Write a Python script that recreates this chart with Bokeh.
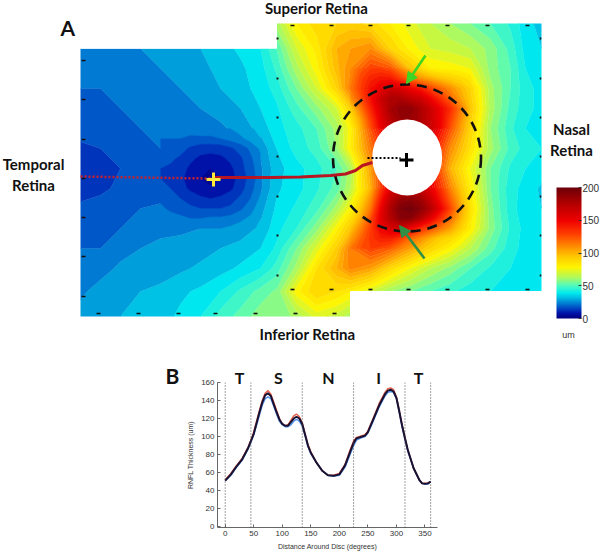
from bokeh.plotting import figure
from bokeh.layouts import column
from bokeh.embed import file_html
from bokeh.resources import INLINE
from bokeh.models import (ColorBar, LinearColorMapper, FixedTicker, Range1d, Arrow,
                          NormalHead, Span)
from bokeh.core.properties import value
import numpy as np

N = float("nan")

# ---- thickness map (um) ----
map_x = [80, 100, 120, 140, 160, 180, 200, 220, 240, 260, 276,
         296, 316, 336, 350, 370, 390, 410, 430, 450, 470, 490, 510, 525, 541]
map_y = [23, 48, 68, 88, 108, 128, 148, 168, 188, 208, 228, 248, 268, 291, 316]
r023 = [N, N, N, N, N, N, N, N, N, N, 62, 80, 88, 90, 92, 88, 80, 72, 65, 60, 55, 50, 44, 37, 33]
r048 = [22, 23, 24, 25, 27, 28, 30, 33, 36, 40, 50, 70, 82, 100, 105, 110, 90, 78, 70, 68, 65, 58, 48, 38, 35]
r068 = [21, 22, 23, 24, 25, 27, 29, 31, 34, 38, 46, 63, 78, 98, 110, 130, 125, 95, 80, 78, 75, 58, 50, 40, 37]
r088 = [20, 20, 21, 23, 24, 25, 27, 30, 33, 37, 42, 55, 70, 90, 115, 145, 165, 150, 130, 110, 90, 62, 50, 42, 38]
r108 = [18, 19, 20, 21, 23, 24, 25, 27, 30, 35, 39, 48, 58, 70, 92, 138, 180, 188, 165, 135, 95, 63, 48, 42, 38]
r128 = [17, 18, 19, 20, 21, 22, 23, 24, 27, 32, 38, 43, 50, 62, 78, 125, 168, 178, 168, 125, 90, 60, 46, 40, 38]
r148 = [14, 15, 18, 20, 20, 17, 12, 12, 17, 26, 35, 42, 47, 60, 80, 115, 150, 160, 150, 110, 85, 62, 48, 43, 40]
r168 = [12, 13, 15, 16, 15, 14, 6, 6, 13, 24, 33, 38, 43, 50, 62, 105, 150, 155, 145, 100, 75, 55, 44, 40, 38]
r188 = [13, 14, 16, 17, 17, 14, 7, 7, 13, 24, 34, 38, 44, 52, 65, 100, 158, 170, 155, 112, 80, 55, 42, 38, 34]
r208 = [16, 17, 19, 20, 21, 18, 16, 16, 20, 28, 36, 41, 48, 62, 78, 115, 178, 198, 175, 128, 85, 57, 42, 37, 35]
r228 = [19, 18, 20, 22, 24, 24, 25, 25, 27, 31, 38, 45, 58, 78, 95, 130, 160, 150, 125, 105, 80, 58, 44, 38, 37]
r248 = [20, 20, 23, 25, 26, 27, 28, 30, 32, 35, 41, 55, 72, 92, 115, 130, 122, 105, 90, 78, 65, 52, 42, 38, 37]
r268 = [22, 23, 26, 28, 28, 29, 31, 33, 36, 40, 47, 62, 85, 100, 112, 105, 88, 75, 65, 58, 50, 44, 40, 37, 37]
r291 = [24, 27, 29, 30, 31, 34, 36, 40, 46, 52, 56, 78, 90, 85, 80, 70, 60, 55, 50, 46, 42, 40, 38, 37, 37]
r316 = [27, 29, 30, 32, 33, 36, 40, 47, 52, 58, 55, 62, 72, 68, 62, N, N, N, N, N, N, N, N, N, N]
map_rows = [r023, r048, r068, r088, r108, r128, r148, r168, r188, r208, r228, r248, r268, r291, r316]

# finer readings around the disc (above and below) and around the fovea
disc_col_x = [350, 360, 370, 380, 390, 400, 410, 420, 430, 440, 450, 460, 470]
upper_y = [68, 78, 88, 98, 108, 118, 128]
u068 = [110, 122, 130, 130, 125, 112, 95, 88, 80, 78, 78, 77, 75]
u078 = [112, 128, 138, 143, 142, 130, 118, 108, 102, 96, 92, 88, 83]
u088 = [115, 130, 145, 155, 165, 160, 150, 142, 130, 120, 110, 100, 90]
u098 = [108, 125, 145, 165, 178, 178, 170, 165, 150, 135, 120, 105, 92]
u108 = [92, 115, 138, 160, 180, 188, 188, 178, 165, 150, 135, 115, 95]
u118 = [85, 105, 130, 155, 175, 185, 185, 178, 165, 150, 130, 110, 92]
u128 = [78, 100, 125, 150, 168, 178, 178, 175, 168, 150, 125, 105, 90]
upper_rows = [u068, u078, u088, u098, u108, u118, u128]
lower_y = [188, 198, 208, 218, 228, 238, 248]
l188 = [65, 80, 100, 130, 158, 168, 170, 168, 155, 135, 112, 95, 80]
l198 = [72, 88, 108, 140, 170, 185, 188, 182, 165, 142, 120, 100, 83]
l208 = [78, 95, 115, 150, 178, 195, 198, 190, 175, 152, 128, 105, 85]
l218 = [85, 102, 125, 155, 175, 190, 190, 175, 155, 135, 118, 100, 83]
l228 = [95, 112, 130, 150, 160, 165, 150, 135, 125, 115, 105, 92, 80]
l238 = [105, 120, 132, 140, 140, 130, 118, 110, 100, 92, 88, 80, 72]
l248 = [115, 125, 130, 128, 122, 112, 105, 97, 90, 84, 78, 72, 65]
lower_rows = [l188, l198, l208, l218, l228, l238, l248]
fovea_x = [160, 170, 180, 190, 200, 210, 220, 230, 240, 250, 260]
fovea_y = [128, 138, 148, 158, 168, 178, 188, 198, 208, 218, 228]
f128 = [21, 21, 22, 22, 23, 23, 24, 25, 27, 29, 32]
f138 = [20, 20, 20, 19, 19, 19, 20, 22, 24, 27, 30]
f148 = [20, 18, 17, 14, 12, 12, 12, 14, 17, 21, 26]
f158 = [18, 16, 14, 11, 9, 8, 9, 11, 14, 19, 24]
f168 = [15, 14, 12, 9, 6, 5, 6, 9, 13, 18, 23]
f178 = [15, 14, 11, 8, 5, 3, 5, 8, 12, 17, 23]
f188 = [17, 15, 12, 9, 7, 6, 7, 9, 13, 18, 24]
f198 = [19, 17, 15, 13, 11, 10, 11, 13, 16, 20, 26]
f208 = [21, 19, 18, 16, 15, 15, 15, 16, 19, 23, 28]
f218 = [23, 22, 21, 20, 20, 21, 21, 22, 24, 26, 30]
f228 = [24, 24, 24, 25, 25, 25, 25, 26, 27, 29, 31]
fovea_rows = [f128, f138, f148, f158, f168, f178, f188, f198, f208, f218, f228]

# colour scale stops (value, r, g, b)
stops_v = [0, 8, 15, 25, 38, 50, 62, 78, 95, 110, 130, 150, 175, 200]
stops_r = [0, 0, 0, 0, 0, 80, 170, 255, 255, 255, 255, 240, 180, 110]
stops_g = [0, 20, 70, 140, 235, 250, 250, 245, 200, 140, 60, 0, 0, 0]
stops_b = [130, 170, 195, 215, 240, 190, 100, 0, 0, 0, 0, 0, 0, 10]

def scale(values):
    v = np.asarray(values, float)
    r = np.interp(v, stops_v, stops_r)
    g = np.interp(v, stops_v, stops_g)
    b = np.interp(v, stops_v, stops_b)
    return ["#%02x%02x%02x" % (int(a), int(c), int(d)) for a, c, d in zip(r, g, b)]

levels = list(range(0, 205, 5))
band_colors = scale([l + 2.5 for l in levels[:-1]])
line_colors = scale(levels)
bar_palette = scale(np.linspace(0, 200, 256))

# ---- overlays on the map ----
disc_x, disc_y, disc_w, disc_h = 406.7, 157, 70, 76
ring_x, ring_y, ring_w, ring_h = 406.5, 157.5, 148, 147
notch_x = [80, 276, 350, 541]
notch_y = [23, 47.7, 291, 316]
solid_x = [213, 240, 270, 300, 330, 345, 355, 362, 372]
solid_y = [177, 177, 177, 176.5, 175, 173.5, 170, 165, 162]
dot_x = [80, 140, 210]
dot_y = [176, 177, 178]
black_dot_x = [367, 400]
black_dot_y = [157.5, 157.5]

tick_top_x = [292, 331, 370, 408, 447, 487, 527]
tick_side_y = [38, 78, 117, 156, 196, 235, 275]
tick_left_y = [60, 99, 139, 178, 217, 256, 296]
tick_bottom_x = [98, 138, 178, 215, 255, 295, 334]

# ---- curves (deg, um) ----
deg = [0, 10, 20, 30, 40, 45, 50, 60, 65, 70, 75, 80, 85, 90, 95, 100, 105, 110, 115, 120, 125, 130, 135,
       140, 145, 150, 160, 170, 180, 190, 200, 210, 220, 225, 230, 240, 245, 250, 260, 270, 280, 285, 290,
       295, 300, 305, 310, 315, 320, 330, 340, 345, 350, 355, 360]
mean_um = [51, 58, 67, 75, 87, 95, 103, 127, 138, 146, 148, 145, 136, 127, 119, 114, 112, 112, 116, 120, 122, 120, 114,
           102, 90, 82, 71, 62, 57, 56.5, 58, 68, 85, 93, 98, 100, 101, 105, 120, 135, 147, 151, 152,
           150, 143, 128, 112, 98, 85, 65, 52, 48, 47.5, 48, 50]
red_um = [52, 59, 68, 76, 88, 96, 105, 129, 140, 148, 151, 147, 138, 129, 120, 114, 112, 113, 118, 123, 125, 122, 115,
          103, 91, 83, 71, 62, 57, 57, 59, 69, 87, 95, 99, 101, 102, 106, 121, 137, 149, 153, 154,
          152, 144, 129, 113, 99, 85, 65, 52, 48, 48, 48, 50]
blue_um = [51, 57, 66, 74, 86, 94, 102, 124, 135, 142, 144, 142, 134, 125, 117, 113, 111, 111, 113, 117, 119, 117, 112,
           101, 89, 81, 71, 62, 57, 56, 57, 66, 82, 90, 96, 99, 100, 104, 118, 133, 145, 149, 150,
           149, 142, 127, 111, 97, 84, 65, 52, 48, 47, 47, 50]
bounds = [0, 45, 135, 225, 315, 360]
sector_names = ["T", "S", "N", "I", "T"]

y_ticks = [0, 20, 40, 60, 80, 100, 120, 140, 160]
x_ticks = [0, 50, 100, 150, 200, 250, 300, 350]
bar_ticks = [0, 50, 100, 150, 200]

HEAD = "Lato"
PAGE_H = 552
B_H = 207

a = figure(width=600, height=PAGE_H, x_range=Range1d(0, 600), y_range=Range1d(PAGE_H, 0),
           x_axis_type=None, y_axis_type=None, toolbar_location=None, output_backend="svg",
           min_border=0, outline_line_color=None, background_fill_color="white")
a.grid.visible = False

a.contour(map_x, map_y, np.array(map_rows, float), levels,
          fill_color=band_colors, line_color=line_colors, line_width=0.6)
for px, py, rows in [(disc_col_x, upper_y, upper_rows), (disc_col_x, lower_y, lower_rows),
                     (fovea_x, fovea_y, fovea_rows)]:
    a.contour(px, py, np.array(rows, float), levels,
              fill_color=band_colors, line_color=line_colors, line_width=0.6)

a.quad(left=notch_x[0], right=notch_x[1], top=notch_y[0], bottom=notch_y[1], fill_color="white", line_color="white")
a.quad(left=notch_x[2], right=notch_x[3], top=notch_y[2], bottom=notch_y[3], fill_color="white", line_color="white")

for xs, ys, w, h in [(tick_top_x, [25] * 7, 4, 1.6), (tick_top_x, [289] * 7, 4, 1.6),
                     ([277] * 7, tick_side_y, 2, 2), ([540] * 7, tick_side_y, 1.5, 2),
                     ([83] * 7, tick_left_y, 4, 1.6), (tick_bottom_x, [313] * 7, 4, 1.6)]:
    a.rect(xs, ys, width=w, height=h, fill_color="#111111", line_color=None)

a.ellipse([disc_x], [disc_y], width=disc_w, height=disc_h, fill_color="white", line_color=None)
a.ellipse([ring_x], [ring_y], width=ring_w, height=ring_h, fill_color=None,
          line_color="#111111", line_width=2.6, line_dash="10 7")
a.line(dot_x, dot_y, line_color="#c8202c", line_width=2.5, line_dash="2 2")
a.line(solid_x, solid_y, line_color="#b81622", line_width=3)
a.line(black_dot_x, black_dot_y, line_color="black", line_width=2, line_dash="2 2")
a.scatter([213], [179], marker="cross", size=14, line_color="#ffe93a", line_width=3)
a.scatter([406], [159.5], marker="cross", size=14, line_color="black", line_width=3)

a.add_layout(Arrow(end=NormalHead(size=11, fill_color="#3fd524", line_color="#3fd524"), line_color="#3fd524",
                   line_width=2.6, x_start=425, y_start=55, x_end=406, y_end=83))
a.add_layout(Arrow(end=NormalHead(size=11, fill_color="#2f8f45", line_color="#2f8f45"), line_color="#2f8f45",
                   line_width=2.6, x_start=424, y_start=258, x_end=399, y_end=225))

for txt, x, y, size, align in [("A", 60, 27, "21px", "left"),
                               ("Superior Retina", 316, 7, "15px", "center"),
                               ("Inferior Retina", 307, 333, "15px", "center"),
                               ("Temporal", 33, 163, "15px", "center"),
                               ("Retina", 33, 184, "15px", "center"),
                               ("Nasal", 571, 128, "15px", "center"),
                               ("Retina", 571, 149, "15px", "center"),
                               ("B", 165, 375, "21px", "left"),
                               (sector_names[0], 239, 377, "16px", "center"),
                               (sector_names[1], 278, 377, "16px", "center"),
                               (sector_names[2], 328, 377, "16px", "center"),
                               (sector_names[3], 378, 377, "16px", "center"),
                               (sector_names[4], 418, 377, "16px", "center")]:
    a.text([x], [y], text=[txt], text_font=value(HEAD), text_font_style="bold", text_font_size=size,
           text_align=align, text_baseline="middle", text_color="#111111")

mapper = LinearColorMapper(palette=bar_palette, low=0, high=200)
bar = ColorBar(color_mapper=mapper, ticker=FixedTicker(ticks=bar_ticks), location=(556, PAGE_H - 318), width=25, height=131,
               padding=0, margin=0, background_fill_color=None, border_line_color=None,
               major_label_text_font="Liberation Sans", major_label_text_font_size="10px",
               major_label_text_color="#333333", major_tick_line_color="#333333", major_tick_in=3, major_tick_out=0,
               minor_tick_line_color=None, bar_line_color=None, label_standoff=1)
a.add_layout(bar, "center")
a.text([568], [334], text=["um"], text_font=value("Liberation Sans"), text_font_size="9px",
       text_align="center", text_baseline="middle", text_color="#333333")

b = figure(width=600, height=B_H, x_range=Range1d(-13.5, 372), y_range=Range1d(-1, 160),
           toolbar_location=None, output_backend="svg", min_border_left=217, min_border_right=163,
           min_border_top=382 - (PAGE_H - B_H), min_border_bottom=25, outline_line_color=None,
           background_fill_alpha=0, border_fill_alpha=0,
           x_axis_label="Distance Around Disc (degrees)", y_axis_label="RNFL Thickness (um)")
b.grid.visible = False
for ax in (b.xaxis[0], b.yaxis[0]):
    ax.major_label_text_font = "Liberation Sans"
    ax.major_label_text_font_size = "8px"
    ax.major_label_text_color = "#333333"
    ax.axis_label_text_font = "Liberation Sans"
    ax.axis_label_text_font_size = "7px"
    ax.axis_label_text_font_style = "normal"
    ax.axis_label_text_color = "#333333"
    ax.axis_line_color = "#666666"
    ax.major_tick_line_color = "#666666"
    ax.major_tick_in = 3
    ax.major_tick_out = 0
    ax.minor_tick_line_color = None
    ax.major_label_standoff = 3
    ax.axis_label_standoff = 4
b.xaxis[0].ticker = FixedTicker(ticks=x_ticks)
b.yaxis[0].ticker = FixedTicker(ticks=y_ticks)

for d in bounds:
    b.add_layout(Span(location=d, dimension="height", line_color="#444444", line_width=1, line_dash="1 2"))
b.line(deg, red_um, line_color="#e8604c", line_width=1.5)
b.line(deg, blue_um, line_color="#4f8fe8", line_width=1.5)
b.line(deg, mean_um, line_color="#1a1030", line_width=2)

page = column(column(a, width=600, height=PAGE_H),
              column(b, width=600, height=B_H, margin=(-B_H, 0, 0, 0)),
              margin=0, spacing=0)
open("out.html", "w").write(file_html(page, INLINE))
